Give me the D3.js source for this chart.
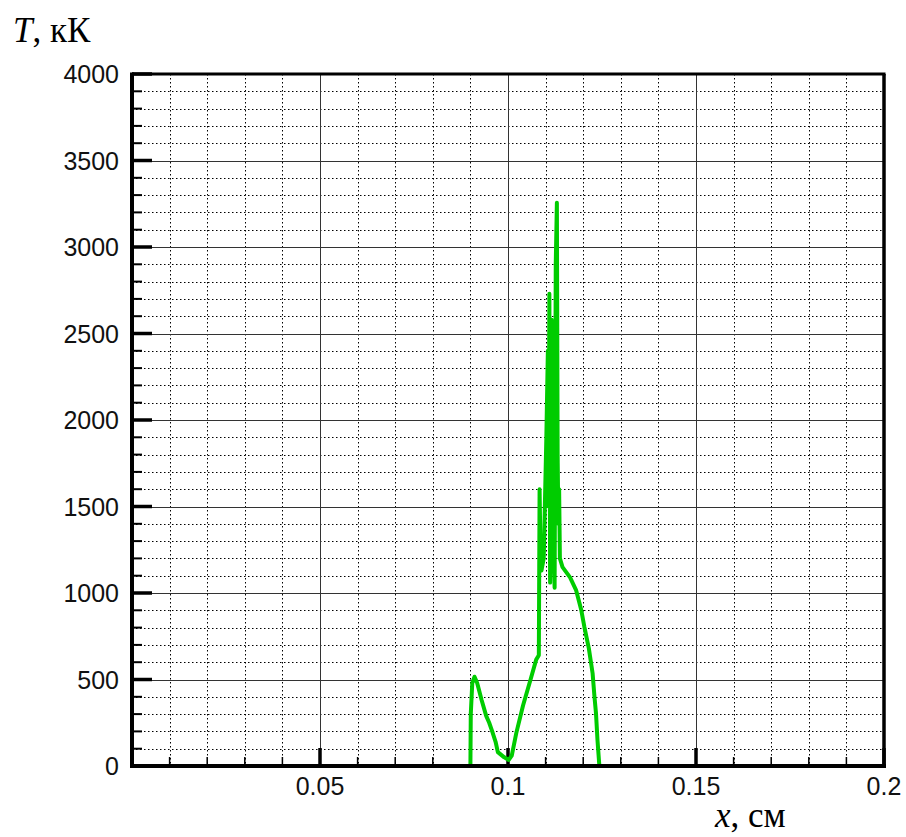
<!DOCTYPE html>
<html>
<head>
<meta charset="utf-8">
<script src="https://cdn.jsdelivr.net/npm/d3@7"></script>
<style>
  html, body { margin: 0; padding: 0; background: #fff; }
  svg { display: block; }
  .tick-label { font-family: "Liberation Sans", Arial, sans-serif; font-size: 25px; fill: #111; }
  .axis-title { font-family: "Liberation Serif", "Times New Roman", serif; font-size: 35px; fill: #000; }
</style>
</head>
<body>
<script>
// Temperature profile T(x)
const xValues = [0.0900, 0.0901, 0.0905, 0.0911, 0.0918, 0.0930, 0.0942, 0.0950, 0.0958, 0.0967,
                 0.0973, 0.0990, 0.1002, 0.1010, 0.1022, 0.1040, 0.1060, 0.1075, 0.1082, 0.1084,
                 0.1087, 0.1089, 0.1095, 0.1102, 0.1106, 0.1108, 0.1110, 0.1112, 0.1114, 0.1116,
                 0.1118, 0.1120, 0.1124, 0.1127, 0.1130, 0.1132, 0.1134, 0.1136, 0.1138, 0.1145,
                 0.1165, 0.1181, 0.1195, 0.1203, 0.1215, 0.1225, 0.1230, 0.1234, 0.1238, 0.1243];
const tValues = [0, 300, 480, 516, 480, 380, 290, 250, 200, 140,
                 80, 50, 35, 60, 190, 350, 500, 615, 640, 1600,
                 1150, 1130, 1200, 1900, 2400, 1500, 2730, 1060, 2200, 2580,
                 1700, 1300, 1030, 2900, 3256, 1800, 1400, 1600, 1200, 1150,
                 1090, 1017, 900, 805, 680, 536, 400, 305, 150, 0];

// Axis tick values
const xMajorTicks = [0.05, 0.1, 0.15, 0.2];
const xMinorTicks = d3.range(1, 20).map(i => i / 100);
const yMajorTicks = [0, 500, 1000, 1500, 2000, 2500, 3000, 3500, 4000];
const yMinorTicks = d3.range(1, 40).map(i => i * 100);

const W = 906, H = 837;
const plot = { left: 132, right: 884, top: 74, bottom: 766 };

const x = d3.scaleLinear().domain([0, 0.2]).range([plot.left, plot.right]);
const y = d3.scaleLinear().domain([0, 4000]).range([plot.bottom, plot.top]);

const svg = d3.select("body").append("svg").attr("width", W).attr("height", H);

const isXMajor = v => Math.abs(v * 20 - Math.round(v * 20)) < 1e-9;
const xMinorOnly = xMinorTicks.filter(v => !isXMajor(v));
const yMinorOnly = yMinorTicks.filter(v => v % 500 !== 0);

// Minor grid (dotted)
const minor = svg.append("g").attr("stroke", "#000").attr("stroke-width", 1)
  .attr("stroke-dasharray", "1.5,2.5");
minor.selectAll(".mx").data(xMinorOnly).join("line")
  .attr("x1", d => Math.round(x(d)) + 0.5).attr("x2", d => Math.round(x(d)) + 0.5)
  .attr("y1", plot.top).attr("y2", plot.bottom);
minor.selectAll(".my").data(yMinorOnly).join("line")
  .attr("y1", d => Math.round(y(d)) + 0.5).attr("y2", d => Math.round(y(d)) + 0.5)
  .attr("x1", plot.left).attr("x2", plot.right);

// Major grid (solid)
const major = svg.append("g").attr("stroke", "#333").attr("stroke-width", 1);
major.selectAll(".gx").data(xMajorTicks.slice(0, -1)).join("line")
  .attr("x1", d => Math.round(x(d)) + 0.5).attr("x2", d => Math.round(x(d)) + 0.5)
  .attr("y1", plot.top).attr("y2", plot.bottom);
major.selectAll(".gy").data(yMajorTicks.slice(1, -1)).join("line")
  .attr("y1", d => Math.round(y(d)) + 0.5).attr("y2", d => Math.round(y(d)) + 0.5)
  .attr("x1", plot.left).attr("x2", plot.right);

// Tick marks along bottom and left edges
const ticks = svg.append("g").attr("stroke", "#000");
ticks.selectAll(".tmx").data(xMinorOnly).join("line").attr("stroke-width", 1.5)
  .attr("x1", d => x(d)).attr("x2", d => x(d))
  .attr("y1", plot.bottom).attr("y2", plot.bottom - 9);
ticks.selectAll(".tMx").data(xMajorTicks).join("line").attr("stroke-width", 3.5)
  .attr("x1", d => x(d)).attr("x2", d => x(d))
  .attr("y1", plot.bottom).attr("y2", plot.bottom - 18);
ticks.selectAll(".tmy").data(yMinorOnly).join("line").attr("stroke-width", 2)
  .attr("y1", d => y(d)).attr("y2", d => y(d))
  .attr("x1", plot.left).attr("x2", plot.left + 10);
ticks.selectAll(".tMy").data(yMajorTicks).join("line").attr("stroke-width", 3.5)
  .attr("y1", d => y(d)).attr("y2", d => y(d))
  .attr("x1", plot.left).attr("x2", plot.left + 20);

// Curve
const line = d3.line().x((d, i) => x(xValues[i])).y(d => y(d));
svg.append("path").datum(tValues)
  .attr("fill", "none").attr("stroke", "#00cc00").attr("stroke-width", 4)
  .attr("stroke-linejoin", "round")
  .attr("d", line);

// Frame
svg.append("line").attr("x1", plot.left).attr("x2", plot.right + 1.5)
  .attr("y1", plot.top).attr("y2", plot.top).attr("stroke", "#000").attr("stroke-width", 3);
svg.append("line").attr("x1", plot.right).attr("x2", plot.right)
  .attr("y1", plot.top).attr("y2", plot.bottom).attr("stroke", "#000").attr("stroke-width", 3.5);
svg.append("line").attr("x1", plot.left).attr("x2", plot.left)
  .attr("y1", plot.top - 1.5).attr("y2", plot.bottom + 2).attr("stroke", "#000").attr("stroke-width", 4);
svg.append("line").attr("x1", plot.left - 2).attr("x2", plot.right + 2)
  .attr("y1", plot.bottom).attr("y2", plot.bottom).attr("stroke", "#000").attr("stroke-width", 4);

// Tick labels
svg.append("g").selectAll("text").data(yMajorTicks).join("text")
  .attr("class", "tick-label").attr("text-anchor", "end")
  .attr("x", 119).attr("y", d => y(d)).attr("dy", "0.36em")
  .text(d => d);
svg.append("g").selectAll("text").data(xMajorTicks).join("text")
  .attr("class", "tick-label").attr("text-anchor", "middle")
  .attr("x", d => x(d)).attr("y", 795)
  .text(d => d3.format("")(d));

// Axis titles
const ty = svg.append("text").attr("class", "axis-title").attr("x", 13).attr("y", 42);
ty.append("tspan").attr("font-style", "italic").text("T");
ty.append("tspan").text(", кК");
const tx = svg.append("text").attr("class", "axis-title").attr("x", 715).attr("y", 827);
tx.append("tspan").attr("font-style", "italic").text("x");
tx.append("tspan").text(", см");
</script>
</body>
</html>
